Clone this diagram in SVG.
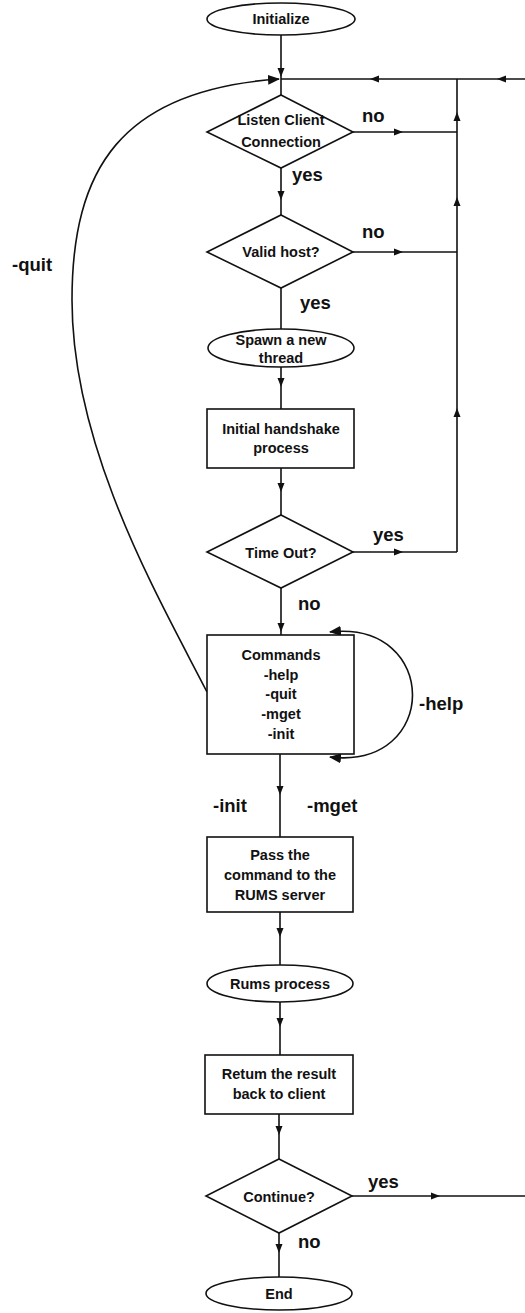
<svg xmlns="http://www.w3.org/2000/svg" xmlns:xlink="http://www.w3.org/1999/xlink" width="525" height="1313" viewBox="0 0 525 1313">
<style>
.s{fill:#fff;stroke:#111;stroke-width:1.6}
.c{fill:none;stroke:#111;stroke-width:1.6}
.t{font-family:"Liberation Sans",Arial,sans-serif;font-weight:bold;font-size:14.5px;fill:#111;text-anchor:middle}
.l{font-family:"Liberation Sans",Arial,sans-serif;font-weight:bold;font-size:18.5px;fill:#111}
.a{fill:#111}
</style>
<defs>
<path id="ah" d="M0,0 L-9,-3.5 L-9,3.5 Z" class="a"/>
<marker id="big" viewBox="0 0 12 10" refX="11" refY="5" markerWidth="12" markerHeight="10" markerUnits="userSpaceOnUse" orient="auto-start-reverse">
<path d="M0,0 L12,5 L0,10 Z" fill="#111"/>
</marker>
</defs>
<g id="connectors">
<path class="c" d="M281,35 V132"/>
<path class="c" d="M281,79 H525"/>
<path class="c" d="M353,132 H457"/>
<path class="c" d="M457,79 V552"/>
<path class="c" d="M281,168 V215"/>
<path class="c" d="M353,252 H457"/>
<path class="c" d="M281,288 V329"/>
<path class="c" d="M281,367 V409"/>
<path class="c" d="M281,468 V515"/>
<path class="c" d="M353,552 H457"/>
<path class="c" d="M281,588 V635"/>
<path class="c" d="M280,754 V837"/>
<path class="c" d="M280,912 V965"/>
<path class="c" d="M280,1002 V1055"/>
<path class="c" d="M279,1114 V1159"/>
<path class="c" d="M352,1196 H525"/>
<path class="c" d="M279,1233 V1277"/>
<path class="c" d="M207,692 C160,600 72,450 72,300 C72,170 120,90 279,79" marker-end="url(#big)"/>
<path class="c" d="M330,632 C440,620 440,770 330,757" marker-start="url(#big)" marker-end="url(#big)"/>
<use xlink:href="#ah" transform="translate(281,77) rotate(90)"/>
<use xlink:href="#ah" transform="translate(370,79) rotate(180)"/>
<use xlink:href="#ah" transform="translate(497,79) rotate(180)"/>
<use xlink:href="#ah" transform="translate(403,132)"/>
<use xlink:href="#ah" transform="translate(457,112) rotate(-90)"/>
<use xlink:href="#ah" transform="translate(457,197) rotate(-90)"/>
<use xlink:href="#ah" transform="translate(457,408) rotate(-90)"/>
<use xlink:href="#ah" transform="translate(281,200) rotate(90)"/>
<use xlink:href="#ah" transform="translate(403,252)"/>
<use xlink:href="#ah" transform="translate(281,387) rotate(90)"/>
<use xlink:href="#ah" transform="translate(281,492) rotate(90)"/>
<use xlink:href="#ah" transform="translate(403,552)"/>
<use xlink:href="#ah" transform="translate(281,632) rotate(90)"/>
<use xlink:href="#ah" transform="translate(280,795) rotate(90)"/>
<use xlink:href="#ah" transform="translate(280,937) rotate(90)"/>
<use xlink:href="#ah" transform="translate(280,1027) rotate(90)"/>
<use xlink:href="#ah" transform="translate(279,1135) rotate(90)"/>
<use xlink:href="#ah" transform="translate(440,1196)"/>
<use xlink:href="#ah" transform="translate(279,1253) rotate(90)"/>
<text class="l" x="362" y="122">no</text>
<text class="l" x="292" y="181">yes</text>
<text class="l" x="362" y="238">no</text>
<text class="l" x="300" y="309">yes</text>
<text class="l" x="373" y="541">yes</text>
<text class="l" x="298" y="610">no</text>
<text class="l" x="12" y="271">-quit</text>
<text class="l" x="419" y="710">-help</text>
<text class="l" x="213" y="812">-init</text>
<text class="l" x="307" y="812">-mget</text>
<text class="l" x="368" y="1188">yes</text>
<text class="l" x="298" y="1248">no</text>
</g>
<g id="initialize">
<ellipse class="s" cx="281" cy="19" rx="74" ry="16"/>
<text class="t" x="281" y="24">Initialize</text>
</g>
<g id="listen">
<path class="s" d="M281,95 L353,132 L281,168 L207,132 Z"/>
<text class="t" x="281" y="125">Listen Client</text>
<text class="t" x="281" y="147">Connection</text>
</g>
<g id="validhost">
<path class="s" d="M281,215 L353,252 L281,288 L207,252 Z"/>
<text class="t" x="281" y="257">Valid host?</text>
</g>
<g id="spawn">
<ellipse class="s" cx="281" cy="348" rx="73" ry="19"/>
<text class="t" x="281" y="345">Spawn a new</text>
<text class="t" x="281" y="363">thread</text>
</g>
<g id="handshake">
<rect class="s" x="207" y="409" width="147" height="59"/>
<text class="t" x="281" y="434">Initial handshake</text>
<text class="t" x="281" y="453">process</text>
</g>
<g id="timeout">
<path class="s" d="M281,515 L353,552 L281,588 L207,552 Z"/>
<text class="t" x="281" y="558">Time Out?</text>
</g>
<g id="commands">
<rect class="s" x="207" y="635" width="147" height="119"/>
<text class="t" x="281" y="660">Commands</text>
<text class="t" x="281" y="680">-help</text>
<text class="t" x="281" y="699">-quit</text>
<text class="t" x="281" y="719">-mget</text>
<text class="t" x="281" y="739">-init</text>
</g>
<g id="pass">
<rect class="s" x="207" y="837" width="146" height="75"/>
<text class="t" x="280" y="860">Pass the</text>
<text class="t" x="280" y="880">command to the</text>
<text class="t" x="280" y="900">RUMS server</text>
</g>
<g id="rums">
<ellipse class="s" cx="280" cy="983.5" rx="73" ry="18.5"/>
<text class="t" x="280" y="989">Rums process</text>
</g>
<g id="return">
<rect class="s" x="205" y="1055" width="148" height="59"/>
<text class="t" x="279" y="1079">Retum the result</text>
<text class="t" x="279" y="1099">back to client</text>
</g>
<g id="continue">
<path class="s" d="M279,1159 L352,1196 L279,1233 L206,1196 Z"/>
<text class="t" x="279" y="1202">Continue?</text>
</g>
<g id="end">
<ellipse class="s" cx="279" cy="1293.5" rx="73" ry="16.5"/>
<text class="t" x="279" y="1299">End</text>
</g>
</svg>
